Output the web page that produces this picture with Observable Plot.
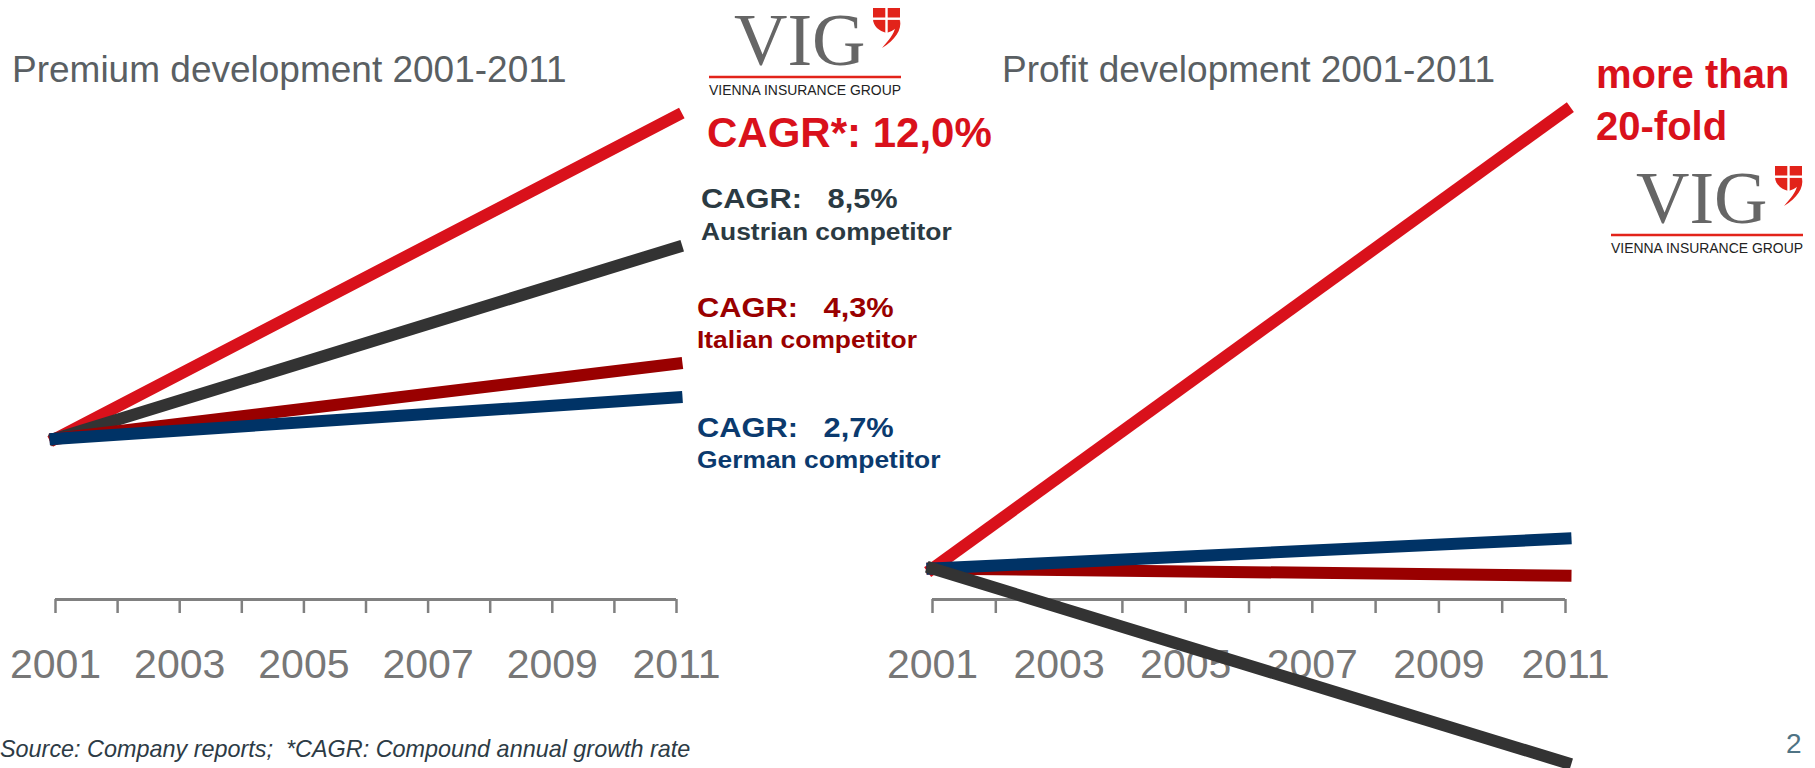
<!DOCTYPE html>
<html>
<head>
<meta charset="utf-8">
<script src="https://cdn.jsdelivr.net/npm/d3@7"></script>
<script src="https://cdn.jsdelivr.net/npm/@observablehq/plot@0.6"></script>
<style>
html, body { margin: 0; padding: 0; background: #fff; }
#wrap { position: relative; width: 1815px; height: 768px; overflow: hidden; font-family: "Liberation Sans", Arial, sans-serif; }
#wrap > svg { position: absolute; top: 0; }
</style>
</head>
<body>
<div id="wrap"></div>
<script>
// ---------- data ----------
const years = [2001, 2011];
const tickYears = [2001, 2002, 2003, 2004, 2005, 2006, 2007, 2008, 2009, 2010, 2011];
const labelYears = [2001, 2003, 2005, 2007, 2009, 2011];
const series = ["VIG", "Austrian competitor", "Italian competitor", "German competitor"];
const seriesColors = ["#d9111b", "#333333", "#990000", "#003366"];
// premium index (2001 = 100)
const premiumStart = [100, 100, 100, 100];
const premiumEnd = [311, 225, 149, 127];
// profit index (2001 = 100)
const profitStart = [100, 100, 100, 100];
const profitEnd = [2100, -747, 69, 231];
const cagrLabels = ["CAGR*: 12,0%", "CAGR:   8,5%", "CAGR:   4,3%", "CAGR:   2,7%"];
const titles = ["Premium development 2001-2011", "Profit development 2001-2011"];
const sourceNote = "Source: Company reports;  *CAGR: Compound annual growth rate";

function rows(startVals, endVals, order) {
  const out = [];
  for (const name of order) {
    const i = series.indexOf(name);
    out.push({series: name, year: years[0], value: startVals[i]});
    out.push({series: name, year: years[1], value: endVals[i]});
  }
  return out;
}

const wrap = document.getElementById("wrap");
const FONT = "'Liberation Sans', Arial, sans-serif";

function chart({data, width, marginLeft, marginRight, yDomain}) {
  return Plot.plot({
    width, height: 768,
    marginLeft, marginRight, marginTop: 100, marginBottom: 169,
    style: {background: "transparent", fontFamily: FONT, overflow: "visible"},
    x: {domain: years},
    y: {domain: yDomain, axis: null},
    color: {domain: series, range: seriesColors},
    marks: [
      Plot.ruleY([yDomain[0]], {stroke: "#808080", strokeWidth: 3}),
      Plot.axisX({
        ticks: tickYears, tickSize: 14, tickPadding: 35,
        tickFormat: d => labelYears.includes(d) ? String(d) : "",
        fontSize: 41, color: "#777777", stroke: "#808080", strokeWidth: 2.5, label: null
      }),
      Plot.line(data, {x: "year", y: "value", z: "series", stroke: "series",
        strokeWidth: 12, strokeLinecap: "square", strokeLinejoin: "miter"})
    ]
  });
}

const left = chart({
  data: rows(premiumStart, premiumEnd, ["VIG", "Austrian competitor", "Italian competitor", "German competitor"]),
  width: 720, marginLeft: 55, marginRight: 44, yDomain: [-5, 321]
});
left.style.left = "0px";
wrap.appendChild(left);

const right = chart({
  data: rows(profitStart, profitEnd, ["VIG", "Italian competitor", "German competitor", "Austrian competitor"]),
  width: 935, marginLeft: 52, marginRight: 250, yDomain: [-35, 2144]
});
right.style.left = "880px";
wrap.appendChild(right);

// ---------- overlay: titles, annotations, logos ----------
const NS = "http://www.w3.org/2000/svg";
const ov = document.createElementNS(NS, "svg");
ov.setAttribute("width", 1815);
ov.setAttribute("height", 768);
ov.style.left = "0px";
ov.style.fontFamily = FONT;
wrap.appendChild(ov);

function txt(s, x, y, o = {}) {
  const t = document.createElementNS(NS, "text");
  t.textContent = s;
  t.setAttribute("x", 0);
  t.setAttribute("y", 0);
  t.setAttribute("transform", `translate(${x},${y}) scale(${o.sx || 1},1)`);
  t.setAttribute("font-size", o.size || 20);
  t.setAttribute("fill", o.fill || "#000");
  if (o.weight) t.setAttribute("font-weight", o.weight);
  if (o.style) t.setAttribute("font-style", o.style);
  if (o.family) t.setAttribute("font-family", o.family);
  if (o.len) { t.setAttribute("textLength", o.len); t.setAttribute("lengthAdjust", "spacingAndGlyphs"); }
  t.style.whiteSpace = "pre";
  ov.appendChild(t);
  return t;
}
function el(tag, attrs, parent = ov) {
  const e = document.createElementNS(NS, tag);
  for (const k in attrs) e.setAttribute(k, attrs[k]);
  parent.appendChild(e);
  return e;
}

function logo(x0, y0) {
  const red = "#e2231a";
  txt("VIG", x0 + 25, y0 - 12, {size: 74, fill: "#666666", family: "'Liberation Serif', 'Times New Roman', serif"});
  const g = el("g", {transform: `translate(${x0 + 164},${y0 - 69})`});
  el("path", {d: "M0,0 H27 V11 C27,18 21,23 13.5,25 C6,23 0,18 0,11 Z", fill: red}, g);
  el("rect", {x: 12.3, y: 0, width: 2.4, height: 26, fill: "#fff"}, g);
  el("rect", {x: 0, y: 9.5, width: 27, height: 2.4, fill: "#fff"}, g);
  el("path", {d: "M27,12 C29,22 22,32 9,40 C16,32 21,26 22,20 Z", fill: red}, g);
  el("rect", {x: x0, y: y0 - 1.25, width: 192, height: 2.5, fill: red});
  txt("VIENNA INSURANCE GROUP", x0, y0 + 18, {size: 14, fill: "#222", len: 192});
}

// titles
txt(titles[0], 12, 82, {size: 37, fill: "#5a5f63"});
txt(titles[1], 1002, 82, {size: 37, fill: "#5a5f63"});

// left annotations
txt(cagrLabels[0], 707, 147, {size: 42, weight: "bold", fill: "#d9111b"});
txt(cagrLabels[1], 701, 208, {size: 28, weight: "bold", fill: "#2b3a42", sx: 1.1});
txt(series[1], 701, 240, {size: 24, weight: "bold", fill: "#2b3a42", sx: 1.1});
txt(cagrLabels[2], 697, 317, {size: 28, weight: "bold", fill: "#990000", sx: 1.1});
txt(series[2], 697, 348, {size: 24, weight: "bold", fill: "#990000", sx: 1.1});
txt(cagrLabels[3], 697, 437, {size: 28, weight: "bold", fill: "#0b3a6e", sx: 1.1});
txt(series[3], 697, 468, {size: 24, weight: "bold", fill: "#0b3a6e", sx: 1.1});

// right annotations
txt("more than", 1596, 88, {size: 40, weight: "bold", fill: "#d9111b"});
txt("20-fold", 1596, 140, {size: 40, weight: "bold", fill: "#d9111b"});

logo(709, 77);
logo(1611, 235);

// footer
txt(sourceNote, 0, 757, {size: 23.4, style: "italic", fill: "#2d3b45"});
txt("2", 1786, 753, {size: 28, fill: "#4f7384"});
</script>
</body>
</html>
